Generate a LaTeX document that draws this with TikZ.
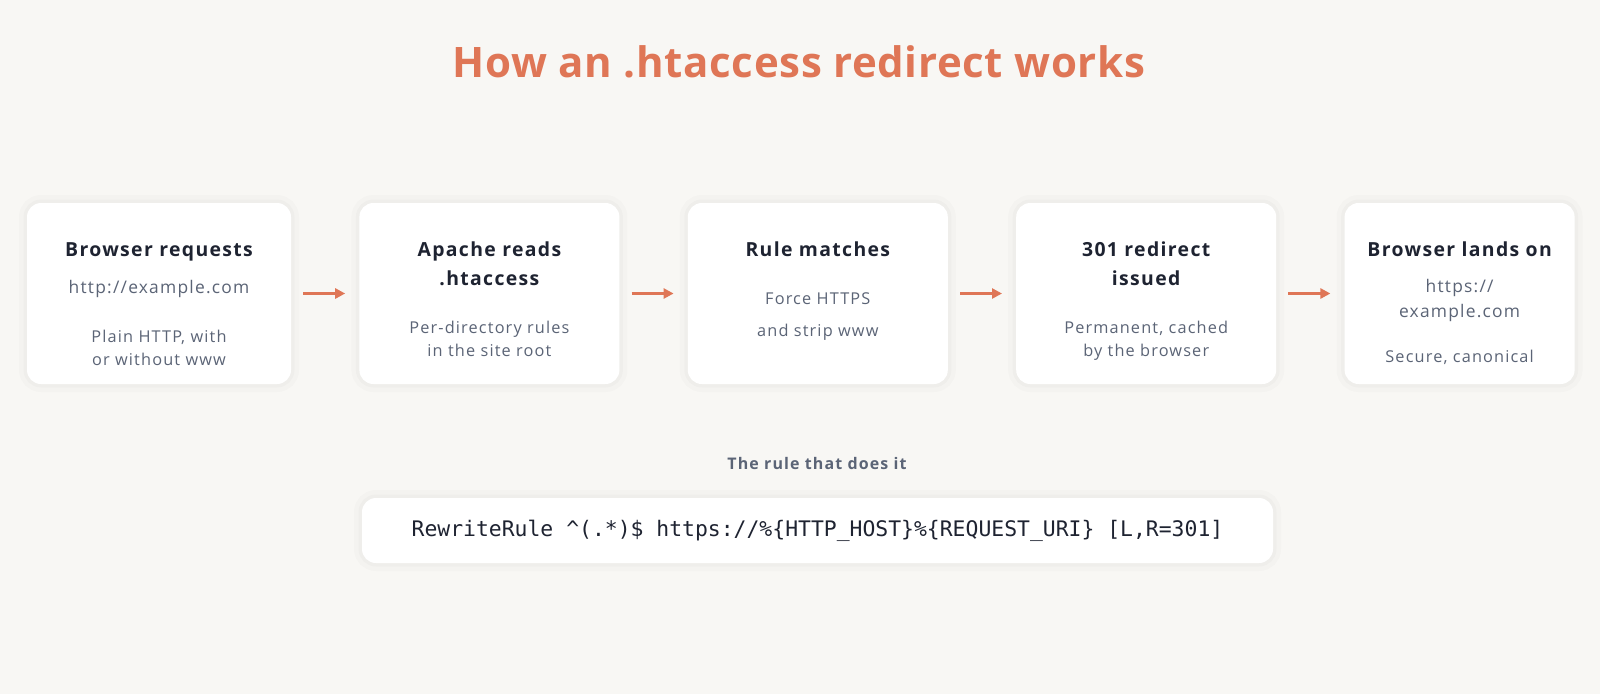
\documentclass[tikz,border=0pt]{standalone}
\usepackage{fontspec}
\setmainfont{Open Sans}
\newfontfamily\headfont[LetterSpace=1.5]{Open Sans}
\newfontfamily\widefont[LetterSpace=7]{Open Sans}
\setmonofont{DejaVu Sans Mono}
\usetikzlibrary{arrows.meta,positioning}
\definecolor{pagebg}{HTML}{F8F7F4}
\definecolor{accent}{HTML}{DF7656}
\definecolor{inkdark}{HTML}{1E2331}
\definecolor{inkgray}{HTML}{5B6476}
\tikzset{
  card/.style={rounded corners=14pt, fill=white, minimum height=181pt, inner sep=0pt,
    preaction={draw=black, opacity=0.015, line width=16pt},
    preaction={draw=black, opacity=0.02, line width=7pt}},
  cardtitle/.style={anchor=base, align=center, text=inkdark, font=\widefont\bfseries\fontsize{19.4}{29}\selectfont},
  cardurl/.style={anchor=base, align=center, text=inkgray, font=\widefont\fontsize{17.4}{25}\selectfont},
  carddesc/.style={anchor=base, align=center, text=inkgray, font=\widefont\fontsize{16.3}{23.5}\selectfont},
  flow/.style={-{Triangle[length=10pt, width=10pt]}, line width=3pt, draw=accent,
    shorten <=12pt, shorten >=14pt}
}
\begin{document}
\begin{tikzpicture}[x=1pt, y=-1pt, node distance=68pt]
  \fill[pagebg] (0,0) rectangle (1600,694);
  \useasboundingbox (0,0) rectangle (1600,694);

  \node[anchor=base, text=accent, font=\headfont\bfseries\fontsize{42}{50}\selectfont] (title) at (799,77) {How an .htaccess redirect works};

  % the five steps
  \node[card, minimum width=264pt] (b1) at (159,293.5) {};
  \node[card, minimum width=260pt, right=of b1] (b2) {};
  \node[card, minimum width=260pt, right=of b2] (b3) {};
  \node[card, minimum width=260pt, right=of b3] (b4) {};
  \node[card, minimum width=230pt, right=of b4] (b5) {};

  % multi-line texts sit on the baseline of their last line
  \node[cardtitle] (t1) at ([yshift=-54pt]b1.north) {Browser requests};
  \node[cardurl] (u1) at ([yshift=-91pt]b1.north) {http://example.com};
  \node[carddesc] (d1) at ([yshift=-163pt]b1.north) {Plain HTTP, with\\or without www};

  \node[cardtitle] (t2) at ([yshift=-83pt]b2.north) {Apache reads\\.htaccess};
  \node[carddesc] (d2) at ([yshift=-154pt]b2.north) {Per-directory rules\\in the site root};

  \node[cardtitle] (t3) at ([yshift=-54pt]b3.north) {Rule matches};
  \node[carddesc, font=\widefont\fontsize{16.3}{32}\selectfont] (d3) at ([yshift=-134pt]b3.north) {Force HTTPS\\and strip www};

  \node[cardtitle] (t4) at ([yshift=-83pt]b4.north) {301 redirect\\issued};
  \node[carddesc] (d4) at ([yshift=-154pt]b4.north) {Permanent, cached\\by the browser};

  \node[cardtitle] (t5) at ([yshift=-54pt]b5.north) {Browser lands on};
  \node[cardurl] (u5) at ([yshift=-115pt]b5.north) {https://\\example.com};
  \node[carddesc] (d5) at ([yshift=-160pt]b5.north) {Secure, canonical};

  \draw[flow] (b1) -- (b2);
  \draw[flow] (b2) -- (b3);
  \draw[flow] (b3) -- (b4);
  \draw[flow] (b4) -- (b5);

  % the rule itself
  \node[anchor=base, text=inkgray, font=\widefont\bfseries\fontsize{16}{20}\selectfont] (caption) at (817,469) {The rule that does it};
  \node[card, minimum width=911pt, minimum height=65pt, text=inkdark, font=\ttfamily\fontsize{21.4}{26}\selectfont] (rule) at (817.5,530.5) {RewriteRule \string^(.*)\$ https://\%\{HTTP\_HOST\}\%\{REQUEST\_URI\} [L,R=301]};
\end{tikzpicture}
\end{document}
